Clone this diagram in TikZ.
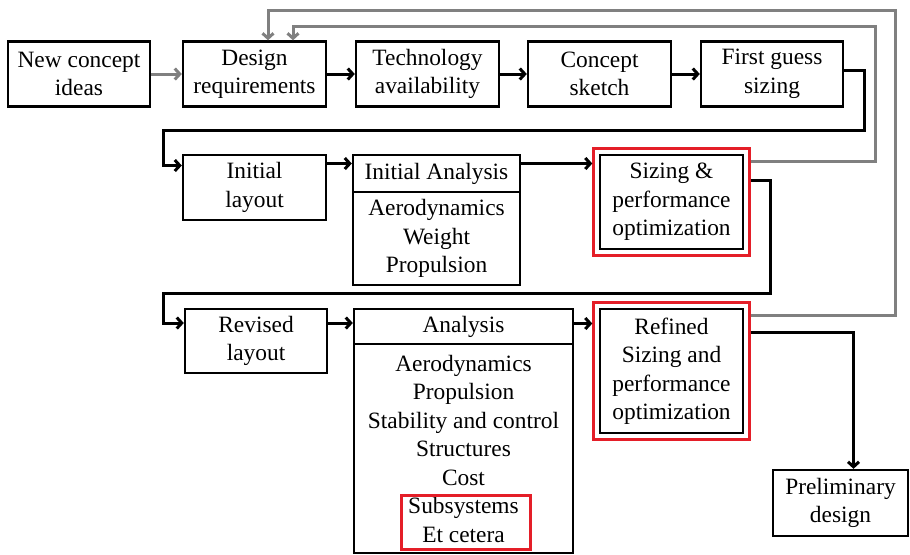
\documentclass[tikz,border=0pt]{standalone}
\usepackage{fontspec}
\setmainfont{Liberation Serif}
\usetikzlibrary{arrows.meta,fit}
\definecolor{loopgray}{RGB}{128,128,128}
\definecolor{markred}{RGB}{228,30,40}
\tikzset{
  stage/.style={draw=black, line width=1.2pt, align=center, inner sep=0pt,
    minimum width=71pt, minimum height=32.5pt, font=\fontsize{11.7}{14.25}\selectfont},
  redframe/.style={draw=markred, line width=1.5pt, inner sep=2.5pt},
  flow/.style={draw=black, line width=1.5pt, -{Straight Barb[length=2.5pt,width=5.5pt]}},
  back/.style={flow, draw=loopgray},
}
\begin{document}
\begin{tikzpicture}[x=0.5pt, y=-0.5pt]
  \useasboundingbox (0,0) rectangle (910,554);
  % first row
  \node[stage, minimum width=71pt] (ideas) at (79,74) {New concept\\ideas};
  \node[stage, minimum width=71.5pt] (req) at (254.5,74) {Design\\requirements};
  \node[stage, minimum width=71.5pt] (tech) at (427.5,74) {Technology\\availability};
  \node[stage, minimum width=71.5pt] (sketch) at (599.5,74) {Concept\\sketch};
  \node[stage, minimum width=71pt] (guess) at (772,74) {First guess\\sizing};
  % second row
  \node[stage, minimum width=71.5pt] (initlay) at (254.5,187.5) {Initial\\layout};
  \node[stage, minimum width=83.5pt, minimum height=18.5pt] (iahead) at (436.5,173.5) {Initial Analysis};
  \node[stage, minimum width=83.5pt, minimum height=46.5pt] (iabody) at (436.5,238.5) {Aerodynamics\\Weight\\Propulsion};
  \node[stage, minimum width=71.5pt, minimum height=47pt] (size) at (671.5,202) {Sizing \&\\performance\\optimization};
  \node[redframe, fit=(size)] (sizeF) {};
  % third row
  \node[stage, minimum width=71pt, minimum height=32pt] (revlay) at (256,341) {Revised\\layout};
  \node[stage, minimum width=109.5pt, minimum height=17.5pt] (anhead) at (463.5,326.5) {Analysis};
  \node[stage, minimum width=109.5pt, minimum height=104.5pt] (anbody) at (463.5,448.5)
    {Aerodynamics\\Propulsion\\Stability and control\\Structures\\Cost\\Subsystems\\Et cetera};
  \draw[markred, line width=1.5pt] (401,495) rectangle (530,549);
  \node[stage, minimum width=71.5pt, minimum height=62pt] (refine) at (671.5,371) {Refined\\Sizing and\\performance\\optimization};
  \node[redframe, fit=(refine)] (refineF) {};
  \node[stage, minimum width=67.5pt, minimum height=33pt] (prelim) at (840.5,503) {Preliminary\\design};

  % connectors
  \draw[back] (ideas) -- (req);
  \draw[flow] (req) -- (tech);
  \draw[flow] (tech) -- (sketch);
  \draw[flow] (sketch) -- (guess);
  \draw[flow] ([yshift=2pt]guess.east) -- ++(20,0) |- (163,130) |- ([yshift=11pt]initlay.west);
  \draw[flow] ([yshift=12pt]initlay.east) -- ([yshift=12pt]initlay.east -| iahead.west);
  \draw[flow] ([yshift=5pt]iahead.east) -- ([yshift=5pt]iahead.east -| sizeF.west);
  \draw[flow] ([yshift=11pt]sizeF.east) -- ++(20,0) |- (163,293) |- ([yshift=9pt]revlay.west);
  \draw[flow] ([yshift=9pt]revlay.east) -- ([yshift=9pt]revlay.east -| anhead.west);
  \draw[flow] ([yshift=1.5pt]anhead.east) -- ([yshift=1.5pt]anhead.east -| refineF.west);
  \draw[flow] ([yshift=19.5pt]refineF.east) -| ([xshift=6.5pt]prelim.north);
  % feedback loops
  \draw[back] ([yshift=20.5pt]sizeF.east) -| (875,26) -| ([xshift=19.25pt]req.north);
  \draw[back] ([yshift=28pt]refineF.east) -| (895,10) -| ([xshift=6.75pt]req.north);
\end{tikzpicture}
\end{document}
